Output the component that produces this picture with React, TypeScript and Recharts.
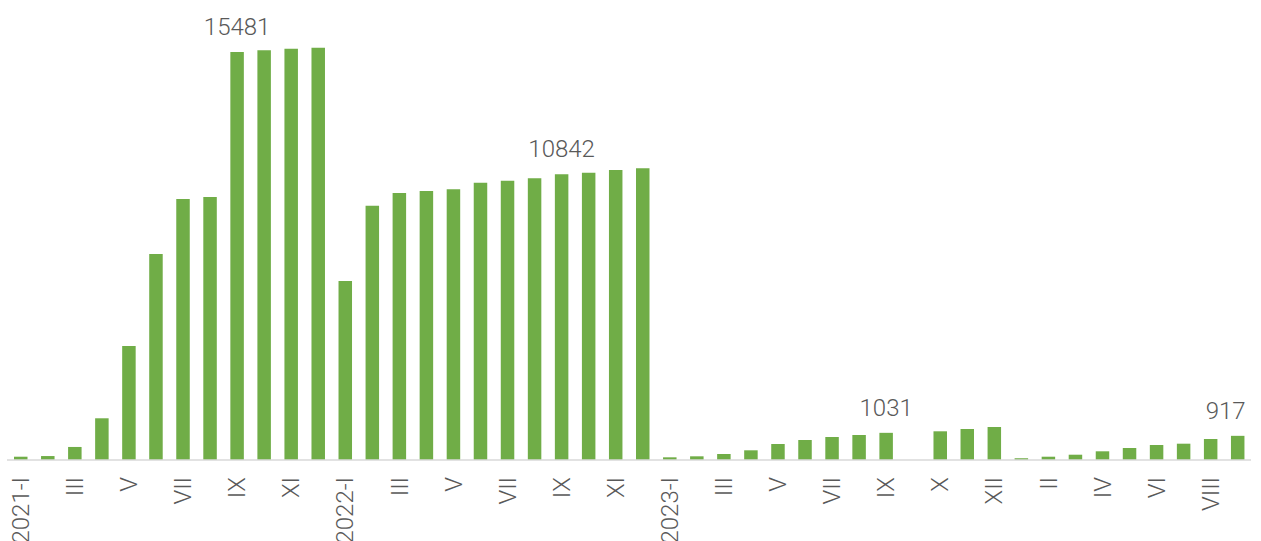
import { BarChart, Bar, XAxis, YAxis, LabelList } from 'recharts'

// month labels (every other one is drawn on the axis)
const months = [
  '2021-I', 'II', 'III', 'IV', 'V', 'VI', 'VII', 'VIII', 'IX', 'X', 'XI', 'XII',
  '2022-I', 'II', 'III', 'IV', 'V', 'VI', 'VII', 'VIII', 'IX', 'X', 'XI', 'XII',
  '2023-I', 'II', 'III', 'IV', 'V', 'VI', 'VII', 'VIII', 'IX', '', 'X', 'XI', 'XII',
  '2024-I', 'II', 'III', 'IV', 'V', 'VI', 'VII', 'VIII', 'IX',
]

const values: (number | null)[] = [
  125, 150, 495, 1583, 4326, 7818, 9905, 9981, 15481, 15548, 15610, 15647,
  6793, 9651, 10133, 10209, 10273, 10524, 10600, 10691, 10842, 10903, 11006, 11070,
  102, 140, 228, 368, 607, 759, 873, 949, 1031, null, 1089, 1176, 1252,
  65, 125, 201, 330, 455, 569, 619, 797, 917,
]

// bars that carry a value label
const labeledIdx = [8, 20, 32, 45]
const labeledValues = labeledIdx.map((i) => values[i])
const lastValue = values[values.length - 1]

// unique key per bar, the axis shows months[idx]
const chartData = months.map((m, i) => ({ idx: String(i), month: m, value: values[i] }))

const GRAY = '#595959'
const FONT = 'Roboto, "Noto Sans", sans-serif'

const MonthTick = ({ x, y, payload }: any) => (
  <g transform={`translate(${x},${y})`}>
    <text
      transform="rotate(-90)"
      textAnchor="end"
      dy="0.35em"
      fontSize={24}
      fontWeight={300}
      fontFamily={FONT}
      fill={GRAY}
    >
      {months[Number(payload.value)]}
    </text>
  </g>
)

// LabelList skips the null bar, so match on the value instead of the index
const renderValueLabel = (props: any) => {
  const { x, y, width, value } = props
  if (!labeledValues.includes(value)) return null
  // last label sits a bit to the left, as in the source
  const shift = value === lastValue ? -12 : 0
  return (
    <text
      key={`lbl-${value}`}
      x={Number(x) + Number(width) / 2 + shift}
      y={Number(y) - 17}
      textAnchor="middle"
      fontSize={24}
      fontWeight={300}
      fontFamily={FONT}
      fill={GRAY}
    >
      {value}
    </text>
  )
}

export default function App() {
  return (
    <div style={{ position: 'absolute', left: 0, top: 0, background: '#fff' }}>
      <BarChart
        width={1261}
        height={541}
        data={chartData}
        margin={{ top: 12, right: 10, left: 7, bottom: 0 }}
      >
        <XAxis
          dataKey="idx"
          interval={1}
          height={81}
          tickLine={false}
          axisLine={{ stroke: '#d9d9d9', strokeWidth: 1.5 }}
          tick={<MonthTick />}
          tickMargin={11}
        />
        <YAxis hide domain={[0, 17000]} />
        <Bar dataKey="value" fill="#70ad47" barSize={13.5} isAnimationActive={false}>
          <LabelList dataKey="value" content={renderValueLabel} />
        </Bar>
      </BarChart>
    </div>
  )
}
